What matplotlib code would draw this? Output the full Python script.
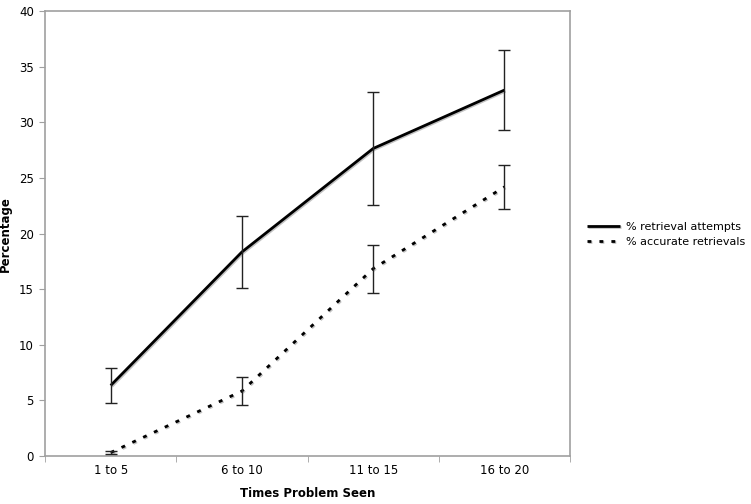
import matplotlib
matplotlib.use("Agg")
import matplotlib.pyplot as plt
import matplotlib.patheffects as pe
import numpy as np

# Data
categories = ["1 to 5", "6 to 10", "11 to 15", "16 to 20"]
attempts = [6.35, 18.35, 27.65, 32.9]
attempts_err = [1.55, 3.25, 5.05, 3.6]
accurate = [0.32, 5.85, 16.85, 24.2]
accurate_err = [0.12, 1.25, 2.15, 2.0]

plt.rcParams["font.family"] = ["DejaVu Sans"]

fig = plt.figure(figsize=(7.51, 5.04), dpi=100)
ax = fig.add_axes([0.06, 0.095, 0.699, 0.883])

x = np.arange(len(categories))
shadow = [pe.SimpleLineShadow(offset=(0.8, -0.8), shadow_color="#999999", alpha=0.6), pe.Normal()]

l1, = ax.plot(x, attempts, color="black", lw=2.0, solid_capstyle="butt",
              path_effects=shadow, label="% retrieval attempts", zorder=3)
l2, = ax.plot(x, accurate, color="black", lw=2.0, dashes=(1.4, 2.9),
              path_effects=shadow, label="% accurate retrievals", zorder=3)
ax.errorbar(x, attempts, yerr=attempts_err, fmt="none", ecolor="#222222",
            elinewidth=1.0, capsize=4, capthick=1.0, zorder=4)
ax.errorbar(x, accurate, yerr=accurate_err, fmt="none", ecolor="#222222",
            elinewidth=1.0, capsize=4, capthick=1.0, zorder=4)

ax.set_xlim(-0.5, len(categories) - 0.5)
ax.set_ylim(0, 40)
ax.set_yticks(np.arange(0, 41, 5))
ax.set_xticks(x)
ax.set_xticklabels(categories)
ax.set_xticks(np.arange(-0.5, len(categories), 1.0), minor=True)
ax.tick_params(axis="x", which="major", length=0, pad=6, labelsize=8.5)
ax.tick_params(axis="x", which="minor", length=4, color="#a0a0a0", direction="out")
ax.tick_params(axis="y", length=4, color="#a0a0a0", labelsize=8.5, pad=4)

for s in ax.spines.values():
    s.set_color("#a0a0a0")
    s.set_linewidth(1.2)

ax.set_xlabel("Times Problem Seen", fontsize=8.5, fontweight="bold", labelpad=7)
ax.set_ylabel("Percentage", fontsize=8.5, fontweight="bold", labelpad=5)

fig.legend(handles=[l1, l2], loc="center left", bbox_to_anchor=(0.768, 0.535),
           frameon=False, fontsize=8, handlelength=3.0, handletextpad=0.5,
           labelspacing=0.5)

fig.savefig("out.png", dpi=100)
